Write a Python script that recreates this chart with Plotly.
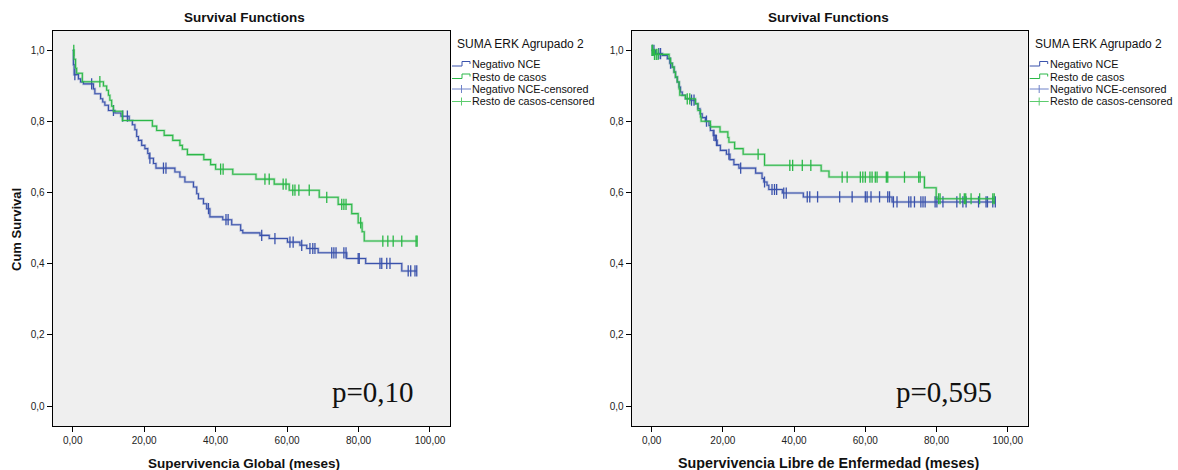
import plotly.graph_objects as go

W, H = 1178, 470

# ---- Supervivencia Global (left panel) ----
# Negativo NCE: event times and survival after each event, censored times
sg_neg_t = [0.2, 0.4, 1.6, 2.2, 3.0, 5.8, 6.2, 7.8, 8.4, 9.0, 10.0, 11.8, 13.5, 15.8, 16.7,
            17.4, 17.9, 18.4, 19.3, 20.2, 21.0, 21.4, 22.6, 23.3, 28.6, 30.0, 31.4, 33.8, 34.7,
            35.2, 36.6, 37.5, 38.4, 42.0, 44.5, 47.0, 47.6, 52.4, 55.0, 60.1, 63.6, 65.5, 68.7,
            76.7, 82.0, 92.1]
sg_neg_s = [0.960, 0.932, 0.920, 0.911, 0.906, 0.892, 0.878, 0.864, 0.855, 0.846, 0.831, 0.824,
            0.815, 0.803, 0.791, 0.777, 0.758, 0.747, 0.733, 0.724, 0.710, 0.697, 0.682, 0.669,
            0.658, 0.644, 0.630, 0.616, 0.597, 0.583, 0.569, 0.555, 0.532, 0.524, 0.510, 0.494,
            0.487, 0.480, 0.471, 0.461, 0.452, 0.443, 0.431, 0.415, 0.401, 0.380]
sg_neg_cens = [0.6, 5.3, 11.4, 14.0, 15.3, 21.6, 25.4, 26.1, 38.0, 42.9, 43.5, 52.9, 56.6, 60.8,
               61.7, 64.1, 66.4, 67.2, 67.8, 72.5, 73.1, 73.7, 75.9, 76.5, 79.9, 80.2, 86.0, 86.5,
               87.9, 88.8, 93.9, 94.6, 95.8, 96.3]

# Resto de casos
sg_res_t = [0.35, 0.8, 1.1, 2.7, 8.6, 9.5, 10.0, 10.4, 10.9, 11.4, 13.9, 22.3, 23.5, 25.6, 28.0,
            30.0, 30.7, 32.1, 36.7, 38.6, 40.0, 44.8, 51.3, 56.4, 60.6, 69.0, 74.3, 78.1, 79.9,
            81.0, 81.6]
sg_res_s = [0.975, 0.950, 0.936, 0.912, 0.900, 0.888, 0.874, 0.860, 0.843, 0.829, 0.803, 0.787,
            0.775, 0.761, 0.747, 0.733, 0.722, 0.707, 0.693, 0.679, 0.666, 0.652, 0.638, 0.624,
            0.607, 0.587, 0.567, 0.541, 0.515, 0.490, 0.464]
sg_res_cens = [0.3, 7.6, 41.4, 42.1, 53.8, 55.0, 58.9, 59.7, 61.6, 62.2, 63.3, 66.2, 71.1, 75.3,
               75.9, 76.5, 80.6, 86.8, 88.2, 89.7, 92.1, 96.1, 96.4]

# ---- Supervivencia Libre de Enfermedad (right panel) ----
sl_neg_t = [1.1, 3.0, 4.4, 5.1, 5.8, 6.3, 6.7, 7.2, 7.7, 8.1, 8.6, 9.5, 10.9, 12.3, 13.0, 13.6,
            14.2, 15.1, 16.1, 16.5, 17.3, 17.9, 18.4, 19.3, 21.0, 22.0, 23.1, 24.5, 29.2, 31.0,
            31.5, 32.4, 32.9, 36.7, 42.6, 67.5]
sl_neg_s = [0.991, 0.986, 0.977, 0.964, 0.953, 0.939, 0.925, 0.911, 0.897, 0.883, 0.874, 0.864,
            0.860, 0.850, 0.836, 0.822, 0.811, 0.801, 0.789, 0.775, 0.761, 0.747, 0.733, 0.719,
            0.708, 0.693, 0.679, 0.669, 0.655, 0.640, 0.630, 0.621, 0.609, 0.599, 0.588, 0.574]
sl_neg_cens = [0.2, 0.65, 2.0, 2.5, 5.3, 11.2, 11.9, 15.4, 17.5, 18.2, 21.7, 25.0, 31.7, 33.8,
               34.5, 35.1, 37.1, 37.8, 43.7, 44.4, 46.6, 52.8, 56.3, 60.0, 60.5, 61.6, 64.0, 66.3,
               66.8, 67.9, 68.9, 72.2, 72.8, 73.8, 75.6, 76.2, 76.8, 79.6, 80.1, 81.8, 85.7, 87.4,
               88.3, 91.8, 93.9, 94.3, 95.8, 96.5]

sl_res_t = [0.5, 4.9, 5.3, 5.8, 6.3, 6.7, 7.2, 7.7, 7.9, 9.5, 12.3, 13.0, 13.7, 13.9, 16.5, 19.2,
            21.4, 21.7, 23.3, 25.7, 31.7, 47.6, 49.8, 76.6, 79.9]
sl_res_s = [0.989, 0.977, 0.964, 0.953, 0.939, 0.925, 0.911, 0.892, 0.874, 0.864, 0.850, 0.831,
            0.813, 0.801, 0.785, 0.771, 0.755, 0.742, 0.724, 0.708, 0.677, 0.661, 0.644, 0.614,
            0.583]
sl_res_cens = [0.1, 0.3, 0.8, 1.3, 1.8, 10.0, 10.7, 29.9, 38.8, 39.6, 42.3, 44.7, 53.5, 54.9, 58.6,
               59.3, 60.0, 61.3, 61.9, 62.8, 63.3, 65.9, 66.3, 71.0, 75.0, 75.4, 80.6, 81.0, 86.6,
               87.8, 88.2, 89.7, 92.1, 95.8, 96.2]

group_names = ["Negativo NCE", "Resto de casos"]
legend_title = "SUMA ERK Agrupado 2"
x_ticks = [0, 20, 40, 60, 80, 100]
x_ticktext = ["0,00", "20,00", "40,00", "60,00", "80,00", "100,00"]
y_ticks = [0.0, 0.2, 0.4, 0.6, 0.8, 1.0]
y_ticktext = ["0,0", "0,2", "0,4", "0,6", "0,8", "1,0"]
p_values = ["p=0,10", "p=0,595"]
x_titles = ["Supervivencia Global (meses)", "Supervivencia Libre de Enfermedad (meses)"]
x_title_sizes = [13.5, 14.3]

BLUE = "#3a52ac"
GREEN = "#2bb848"
BLUE_HALO = "rgba(58,82,172,0.3)"
GREEN_HALO = "rgba(43,184,72,0.3)"
SANS = "Liberation Sans, Arial, sans-serif"


def step_path(times, surv, t_end):
    xs, ys = [0.0], [1.0]
    for t, s in zip(times, surv):
        xs.append(t)
        ys.append(s)
    xs.append(t_end)
    ys.append(surv[-1])
    return xs, ys


def surv_at(times, surv, t):
    val = 1.0
    for ti, si in zip(times, surv):
        if ti <= t:
            val = si
    return val


fig = go.Figure()

panels = [
    ("x", "y", [(sg_neg_t, sg_neg_s, sg_neg_cens, BLUE, BLUE_HALO),
                (sg_res_t, sg_res_s, sg_res_cens, GREEN, GREEN_HALO)]),
    ("x2", "y2", [(sl_neg_t, sl_neg_s, sl_neg_cens, BLUE, BLUE_HALO),
                  (sl_res_t, sl_res_s, sl_res_cens, GREEN, GREEN_HALO)]),
]

for xa, ya, groups in panels:
    for times, surv, cens, col, halo in groups:
        t_end = max(max(cens), times[-1])
        xs, ys = step_path(times, surv, t_end)
        fig.add_trace(go.Scatter(x=xs, y=ys, mode="lines", line=dict(color=halo, width=2.6, shape="hv"),
                                 xaxis=xa, yaxis=ya, hoverinfo="skip", showlegend=False))
        fig.add_trace(go.Scatter(x=xs, y=ys, mode="lines", line=dict(color=col, width=1.1, shape="hv"),
                                 xaxis=xa, yaxis=ya, showlegend=False))
        cy = [surv_at(times, surv, t) for t in cens]
        fig.add_trace(go.Scatter(x=cens, y=cy, mode="markers",
                                 marker=dict(symbol="line-ns", size=8,
                                             line=dict(color=col, width=1.3)),
                                 xaxis=xa, yaxis=ya, showlegend=False))

# plot frames (pixel geometry)
frames = [(52.7, 450.0), (631.7, 1027.7)]
text_centres = [244.0, 828.5]
top, bottom = 30.5, 426.0


def px(x):
    return x / W


def py(y):
    return 1 - y / H


axis_common = dict(showline=True, mirror=True, linecolor="#000", linewidth=1, ticks="outside",
                   ticklen=5, tickcolor="#000", tickfont=dict(family=SANS, size=10, color="#222"),
                   showgrid=False, zeroline=False, fixedrange=True)

fig.update_layout(
    width=W, height=H, autosize=False,
    margin=dict(l=0, r=0, t=0, b=0),
    paper_bgcolor="white", plot_bgcolor="#efefef",
    xaxis=dict(domain=[px(frames[0][0]), px(frames[0][1])], range=[-5.6, 105.6],
               tickvals=x_ticks, ticktext=x_ticktext, anchor="y", **axis_common),
    yaxis=dict(domain=[py(bottom), py(top)], range=[-0.056, 1.056],
               tickvals=y_ticks, ticktext=y_ticktext, anchor="x", **axis_common),
    xaxis2=dict(domain=[px(frames[1][0]), px(frames[1][1])], range=[-5.6, 105.6],
                tickvals=x_ticks, ticktext=x_ticktext, anchor="y2", **axis_common),
    yaxis2=dict(domain=[py(bottom), py(top)], range=[-0.056, 1.056],
                tickvals=y_ticks, ticktext=y_ticktext, anchor="x2", **axis_common),
    showlegend=False,
)

ann = []
shapes = []
for i, (x0, x1) in enumerate(frames):
    cx = text_centres[i]
    ann.append(dict(x=px(cx), y=py(18), text="<b>Survival Functions</b>", showarrow=False,
                    xref="paper", yref="paper", xanchor="center", yanchor="middle",
                    font=dict(family=SANS, size=13.5, color="#111")))
    ann.append(dict(x=px(cx), y=py(463), text="<b>%s</b>" % x_titles[i], showarrow=False,
                    xref="paper", yref="paper", xanchor="center", yanchor="middle",
                    font=dict(family=SANS, size=x_title_sizes[i], color="#111")))
    ann.append(dict(x=px(x1 - 34), y=py(392), text=p_values[i], showarrow=False,
                    xref="paper", yref="paper", xanchor="right", yanchor="middle",
                    font=dict(family="Liberation Serif, Times New Roman, serif", size=29, color="#111")))
    # legend block
    lx = x1 + 5
    ann.append(dict(x=px(lx), y=py(44), text=legend_title, showarrow=False,
                    xref="paper", yref="paper", xanchor="left", yanchor="middle",
                    font=dict(family=SANS, size=12, color="#111")))
    rows = [64.0, 76.5, 89.0, 101.5]
    labels = [group_names[0], group_names[1], group_names[0] + "-censored",
              group_names[1] + "-censored"]
    cols = [BLUE, GREEN, "#6f82c8", "#5ccc6e"]
    for j, (ry, lab, c) in enumerate(zip(rows, labels, cols)):
        ann.append(dict(x=px(x1 + 20), y=py(ry), text=lab, showarrow=False,
                        xref="paper", yref="paper", xanchor="left", yanchor="middle",
                        font=dict(family=SANS, size=10.8, color="#111")))
        ix0, ix1 = x1 + 2, x1 + 21
        if j < 2:
            path = "M {} {} L {} {} L {} {} L {} {} L {} {}".format(
                px(ix0), py(ry + 2), px(ix0 + 10), py(ry + 2), px(ix0 + 10), py(ry - 2.5),
                px(ix1 - 1), py(ry - 2.5), px(ix1 - 1), py(ry))
            shapes.append(dict(type="path", path=path, xref="paper", yref="paper",
                               line=dict(color=c, width=1)))
        else:
            shapes.append(dict(type="line", x0=px(ix0), x1=px(ix1), y0=py(ry), y1=py(ry),
                               xref="paper", yref="paper", line=dict(color=c, width=1)))
            shapes.append(dict(type="line", x0=px(ix0 + 9.5), x1=px(ix0 + 9.5), y0=py(ry - 4),
                               y1=py(ry + 4), xref="paper", yref="paper",
                               line=dict(color=c, width=1)))

ann.append(dict(x=px(17), y=py(230), text="<b>Cum Survival</b>", showarrow=False, textangle=-90,
                xref="paper", yref="paper", xanchor="center", yanchor="middle",
                font=dict(family=SANS, size=13, color="#111")))

fig.update_layout(annotations=ann, shapes=shapes)
fig.write_html("out.html")
